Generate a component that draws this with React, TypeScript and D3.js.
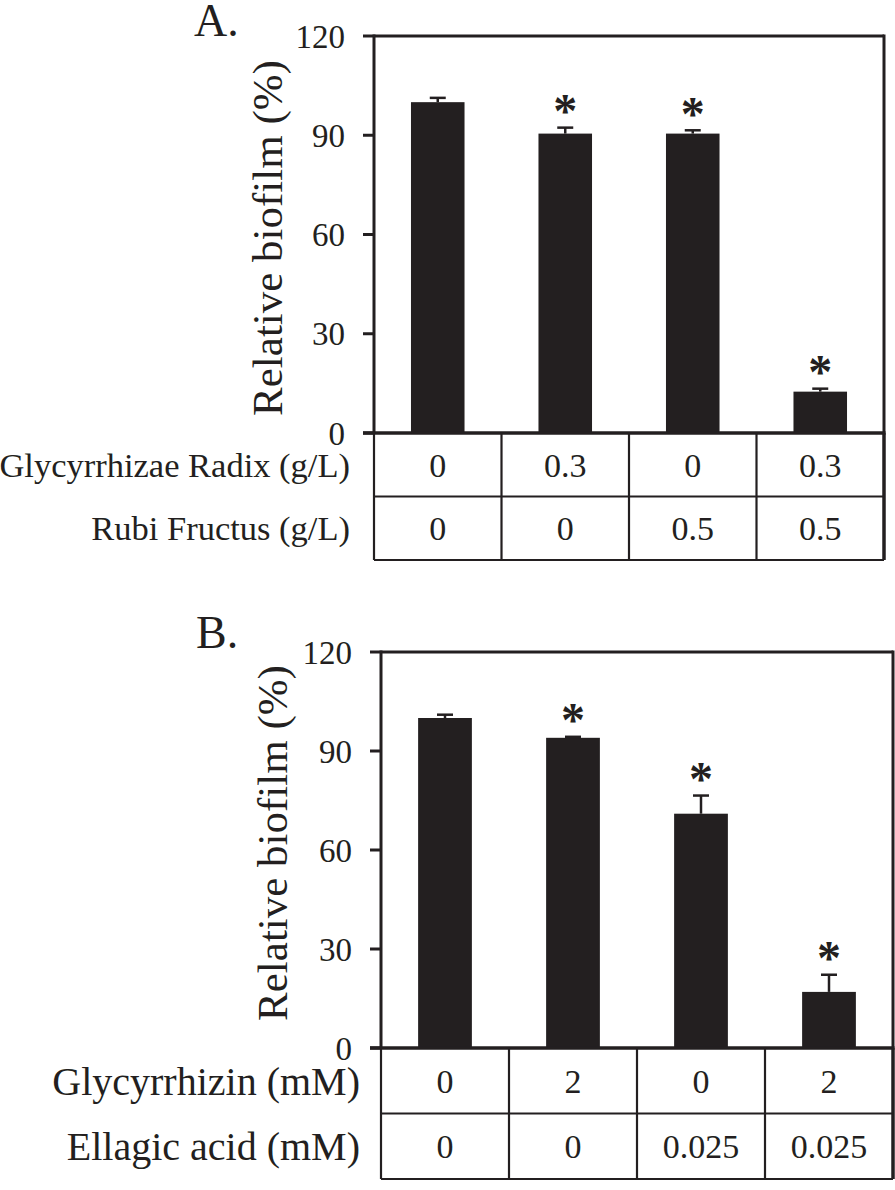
import React from 'react';
import * as d3 from 'd3';

const yTicks = [0, 30, 60, 90, 120];
const yTitle = 'Relative biofilm (%)';

const panelALabel = 'A.';
const panelACategories = ['A1', 'A2', 'A3', 'A4'];
const panelAValues = [100, 90.5, 90.5, 12.5];
const panelAErrors = [1.3, 1.8, 1.0, 0.9];
const panelASignificant = [false, true, true, true];
const panelARowLabels = ['Glycyrrhizae Radix (g/L)', 'Rubi Fructus (g/L)'];
const panelARow1 = ['0', '0.3', '0', '0.3'];
const panelARow2 = ['0', '0', '0.5', '0.5'];

const panelBLabel = 'B.';
const panelBCategories = ['B1', 'B2', 'B3', 'B4'];
const panelBValues = [100, 94, 71, 17];
const panelBErrors = [1.0, 0.3, 5.5, 5.2];
const panelBSignificant = [false, true, true, true];
const panelBRowLabels = ['Glycyrrhizin (mM)', 'Ellagic acid (mM)'];
const panelBRow1 = ['0', '2', '0', '2'];
const panelBRow2 = ['0', '0', '0.025', '0.025'];

const INK = '#231f20';
const FONT = '"Liberation Serif", "Times New Roman", serif';

type PanelProps = {
  label: string;
  categories: string[];
  values: number[];
  errors: number[];
  significant: boolean[];
  rowLabels: string[];
  rows: string[][];
  x0: number;
  x1: number;
  yTop: number;
  yBottom: number;
  rowH: number;
  rowLabelRight: number;
  rowLabelSize: number;
  titleX: number;
  titleY: number;
  labelX: number;
  labelY: number;
};

function Panel(p: PanelProps) {
  const x = d3.scaleBand<string>().domain(p.categories).range([p.x0, p.x1]).padding(0);
  const y = d3.scaleLinear().domain([0, 120]).range([p.yBottom, p.yTop]);
  const bw = x.bandwidth() * 0.42;
  const tableBottom = p.yBottom + p.rowH * p.rows.length;
  const boundaries = [p.x0, ...p.categories.map((c) => (x(c) as number) + x.bandwidth())];
  const astSize = 48;
  return (
    <g>
      <text x={p.labelX} y={p.labelY} fontFamily={FONT} fontSize={46} fill={INK}>
        {p.label}
      </text>
      <text
        transform={`translate(${p.titleX},${p.titleY}) rotate(-90)`}
        textAnchor="middle"
        fontFamily={FONT}
        fontSize={43}
        fill={INK}
      >
        {yTitle}
      </text>
      {p.categories.map((c, i) => {
        const cx = (x(c) as number) + x.bandwidth() / 2;
        const top = y(p.values[i]);
        const errTop = y(p.values[i] + p.errors[i]);
        return (
          <g key={c}>
            <rect x={cx - bw / 2} y={top} width={bw} height={p.yBottom - top} fill={INK} />
            <line x1={cx} x2={cx} y1={top} y2={errTop} stroke={INK} strokeWidth={2.5} />
            <line x1={cx - 8} x2={cx + 8} y1={errTop} y2={errTop} stroke={INK} strokeWidth={2.5} />
            {p.significant[i] && (
              <text
                x={cx}
                y={errTop - 23 + 0.47 * astSize}
                textAnchor="middle"
                fontFamily={FONT}
                fontWeight="bold"
                fontSize={astSize}
                fill={INK}
              >
                *
              </text>
            )}
          </g>
        );
      })}
      <line x1={p.x0} x2={p.x1} y1={p.yTop} y2={p.yTop} stroke={INK} strokeWidth={3} />
      <line x1={p.x1} x2={p.x1} y1={p.yTop - 1.5} y2={tableBottom} stroke={INK} strokeWidth={3} />
      <line x1={p.x0} x2={p.x0} y1={p.yTop - 1.5} y2={p.yBottom} stroke={INK} strokeWidth={3} />
      {yTicks.map((t) => (
        <g key={t}>
          <line x1={p.x0 - 11} x2={p.x0} y1={y(t)} y2={y(t)} stroke={INK} strokeWidth={3} />
          <text
            x={p.x0 - 29}
            y={y(t)}
            dy="0.35em"
            textAnchor="end"
            fontFamily={FONT}
            fontSize={33}
            fill={INK}
          >
            {t}
          </text>
        </g>
      ))}
      <line x1={p.x0 - 11} x2={p.x1 + 1.5} y1={p.yBottom} y2={p.yBottom} stroke={INK} strokeWidth={3.5} />
      {boundaries.map((bx, i) => (
        <line
          key={i}
          x1={bx}
          x2={bx}
          y1={p.yBottom}
          y2={tableBottom}
          stroke={INK}
          strokeWidth={i === boundaries.length - 1 ? 3 : 2.2}
        />
      ))}
      {p.rows.map((row, r) => (
        <g key={r}>
          <line
            x1={p.x0}
            x2={p.x1}
            y1={p.yBottom + p.rowH * (r + 1)}
            y2={p.yBottom + p.rowH * (r + 1)}
            stroke={INK}
            strokeWidth={2.2}
          />
          <text
            x={p.rowLabelRight}
            y={p.yBottom + p.rowH * (r + 0.5)}
            dy="0.35em"
            textAnchor="end"
            fontFamily={FONT}
            fontSize={p.rowLabelSize}
            fill={INK}
          >
            {p.rowLabels[r]}
          </text>
          {row.map((v, i) => (
            <text
              key={i}
              x={(x(p.categories[i]) as number) + x.bandwidth() / 2}
              y={p.yBottom + p.rowH * (r + 0.5)}
              dy="0.35em"
              textAnchor="middle"
              fontFamily={FONT}
              fontSize={34}
              fill={INK}
            >
              {v}
            </text>
          ))}
        </g>
      ))}
    </g>
  );
}

export default function App() {
  return (
    <svg width={895} height={1190} style={{ position: 'absolute', left: 0, top: 0, background: '#fff' }}>
      <rect width={895} height={1190} fill="#fff" />
      <Panel
        label={panelALabel}
        categories={panelACategories}
        values={panelAValues}
        errors={panelAErrors}
        significant={panelASignificant}
        rowLabels={panelARowLabels}
        rows={[panelARow1, panelARow2]}
        x0={374}
        x1={884}
        yTop={36}
        yBottom={433}
        rowH={63.5}
        rowLabelRight={350}
        rowLabelSize={34.5}
        titleX={282}
        titleY={238}
        labelX={194}
        labelY={36}
      />
      <Panel
        label={panelBLabel}
        categories={panelBCategories}
        values={panelBValues}
        errors={panelBErrors}
        significant={panelBSignificant}
        rowLabels={panelBRowLabels}
        rows={[panelBRow1, panelBRow2]}
        x0={381}
        x1={893}
        yTop={652}
        yBottom={1048}
        rowH={65.5}
        rowLabelRight={360}
        rowLabelSize={40}
        titleX={287}
        titleY={843}
        labelX={196}
        labelY={648}
      />
    </svg>
  );
}
